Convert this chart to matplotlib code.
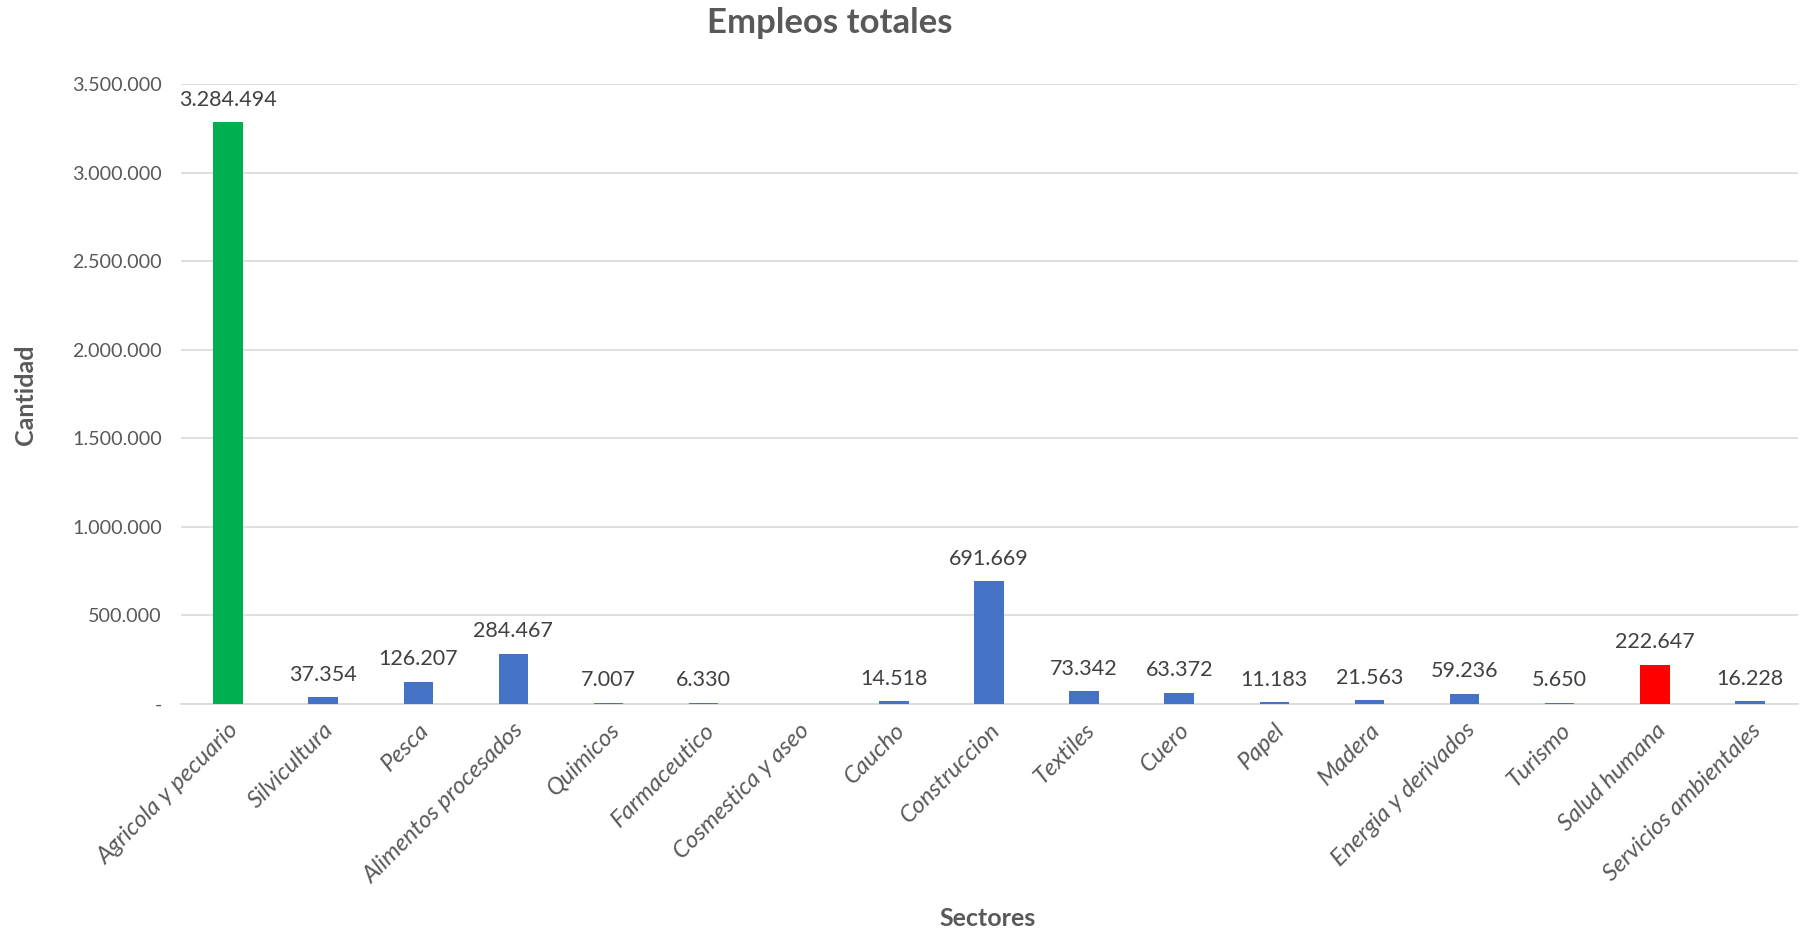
import numpy as np
import matplotlib
matplotlib.use("Agg")
import matplotlib.pyplot as plt
from matplotlib.ticker import FuncFormatter

categories = ["Agricola y pecuario", "Silvicultura", "Pesca", "Alimentos procesados",
              "Quimicos", "Farmaceutico", "Cosmestica y aseo", "Caucho", "Construccion",
              "Textiles", "Cuero", "Papel", "Madera", "Energia y derivados", "Turismo",
              "Salud humana", "Servicios ambientales"]
values = [3284494, 37354, 126207, 284467, 7007, 6330, np.nan, 14518, 691669,
          73342, 63372, 11183, 21563, 59236, 5650, 222647, 16228]
colors = ["#00B050"] + ["#4472C4"] * 14 + ["#FF0000", "#4472C4"]
yticks = [0, 500000, 1000000, 1500000, 2000000, 2500000, 3000000, 3500000]

plt.rcParams['font.family'] = ['Lato', 'DejaVu Sans']

def fmt(v):
    if v == 0:
        return "-"
    return f"{int(round(v)):,}".replace(",", ".")

fig = plt.figure(figsize=(18.09, 9.33), dpi=100)
L, R, T, B = 180.5, 1797.5, 84, 704
ax = fig.add_axes([L/1809, 1 - B/933, (R-L)/1809, (B-T)/933])

x = np.arange(len(categories))
vals = np.array(values, dtype=float)
ax.bar(x, np.nan_to_num(vals), width=0.31, color=colors, zorder=3)
for xi, v in zip(x, vals):
    if not np.isnan(v):
        ax.annotate(fmt(v), (xi, v), xytext=(0, 9), textcoords="offset points",
                    ha="center", va="bottom", fontsize=15.5, color="#404040")

ax.set_xlim(-0.5, len(categories) - 0.5)
ax.set_ylim(0, 3500000)
ax.set_yticks(yticks)
ax.yaxis.set_major_formatter(FuncFormatter(lambda v, p: fmt(v)))
ax.grid(axis="y", color="#D9D9D9", linewidth=1.2, zorder=0)
for s in ["top", "right", "left"]:
    ax.spines[s].set_visible(False)
ax.spines["bottom"].set_color("#D9D9D9")
ax.spines["bottom"].set_linewidth(1.2)
ax.tick_params(axis="both", length=0, labelsize=14.2, colors="#595959")
ax.tick_params(axis="y", pad=13.5)
ax.set_xticks(x)
ax.set_xticklabels(categories, rotation=45, ha="right", rotation_mode="anchor",
                   fontstyle="italic", fontsize=17.2)
ax.tick_params(axis="x", pad=11)

fig.text(830/1809, 1 - 23/933, "Empleos totales", ha="center", va="center",
         fontsize=25, fontweight="bold", color="#595959")
fig.text(25/1809, 1 - 395/933, "Cantidad", rotation=90, ha="center", va="center",
         fontsize=18, fontweight="bold", color="#595959")
fig.text(988/1809, 1 - 919/933, "Sectores", ha="center", va="center",
         fontsize=18, fontweight="bold", color="#595959")

fig.savefig("out.png", dpi=100)
